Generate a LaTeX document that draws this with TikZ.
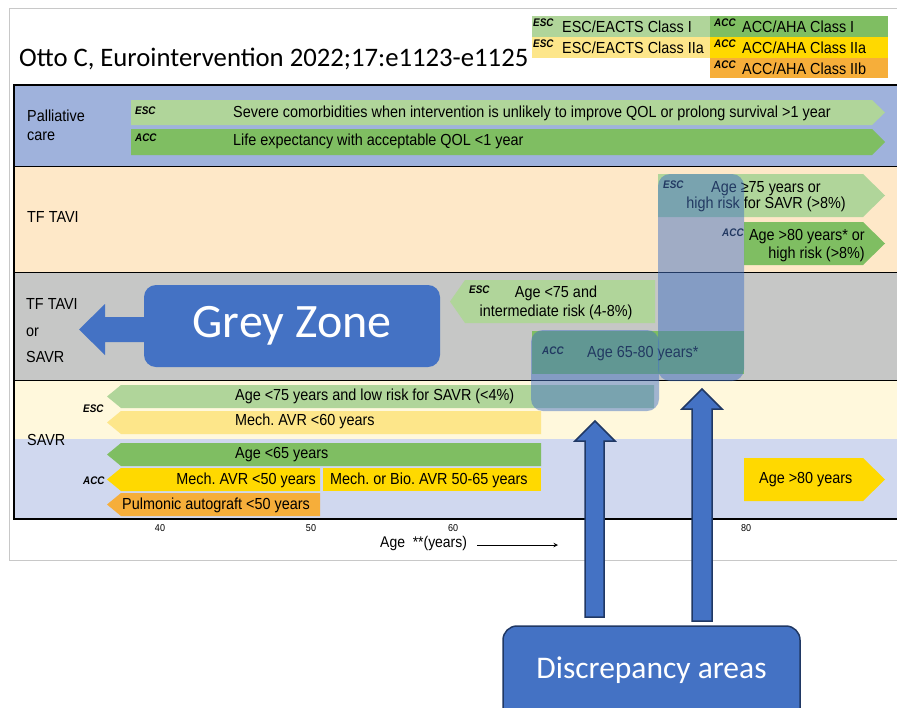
\documentclass[tikz,border=0pt]{standalone}
\usepackage{fontspec}
\usepackage{tikz}
\setmainfont{Liberation Sans}
\newfontfamily\narrowfont[FakeStretch=0.9]{Liberation Sans}
\newfontfamily\calfont{Carlito}
\frenchspacing

\definecolor{palband}{RGB}{159,178,220}
\definecolor{tavband}{RGB}{254,232,200}
\definecolor{greyband}{RGB}{198,199,198}
\definecolor{savrband}{RGB}{255,248,220}
\definecolor{accband}{RGB}{208,216,239}
\definecolor{escone}{RGB}{176,213,154}
\definecolor{accone}{RGB}{127,190,98}
\definecolor{esctwo}{RGB}{253,230,138}
\definecolor{acctwo}{RGB}{255,217,0}
\definecolor{accthree}{RGB}{246,174,58}
\definecolor{zoneblue}{RGB}{68,114,196}
\definecolor{zoneedge}{RGB}{32,56,100}
\definecolor{framegrey}{RGB}{200,200,200}

\tikzset{
  bandlbl/.style={font=\narrowfont\fontsize{16}{19}\selectfont, anchor=west, align=left, inner sep=0pt},
  bartxt/.style={font=\narrowfont\fontsize{16}{17}\selectfont, inner sep=0pt},
  tag/.style={font=\narrowfont\fontsize{11}{12}\selectfont\bfseries\itshape, inner sep=0pt, anchor=west},
  ticklbl/.style={font=\narrowfont\fontsize{10}{11}\selectfont, inner sep=0pt},
  shade box/.style={fill=zoneblue, fill opacity=0.5, rounded corners=12pt},
  blockarr/.style={fill=zoneblue, draw=zoneedge, line width=1.5pt, line join=miter},
}

\begin{document}
\begin{tikzpicture}[x=1pt,y=-1pt]
\useasboundingbox (0,0) rectangle (897,707);
\clip (0,0) rectangle (897,707);
% frame and title
\draw[framegrey, line width=1pt] (9,8) rectangle (910,560);
\node[anchor=base west, inner sep=0pt, font=\calfont\fontsize{26.7}{30}\selectfont] (title) at (19,66) {Otto C, Eurointervention 2022;17:e1123-e1125};
% legend
\fill[escone] (532,16) rectangle (710,37);
\fill[esctwo] (532,37) rectangle (710,58);
\fill[accone] (710,16) rectangle (888,37);
\fill[acctwo] (710,37) rectangle (888,58);
\fill[accthree] (710,58) rectangle (888,78);
\node[tag] (lgesca) at (533,23) {ESC};
\node[tag] (lgescb) at (533,44) {ESC};
\node[tag] (lgacca) at (714,23) {ACC};
\node[tag] (lgaccb) at (714,44) {ACC};
\node[tag] (lgaccc) at (714,65) {ACC};
\node[bartxt, anchor=west] (lgescone) at (562,27) {ESC/EACTS Class I};
\node[bartxt, anchor=west] (lgesctwo) at (562,48) {ESC/EACTS Class IIa};
\node[bartxt, anchor=west] (lgaccone) at (742,27) {ACC/AHA Class I};
\node[bartxt, anchor=west] (lgacctwo) at (742,48) {ACC/AHA Class IIa};
\node[bartxt, anchor=west] (lgaccthree) at (742,69) {ACC/AHA Class IIb};
% bands
\fill[palband] (14,85) rectangle (905,166);
\fill[tavband] (14,166) rectangle (905,272);
\fill[greyband] (14,272) rectangle (905,380);
\fill[savrband] (14,380) rectangle (905,439);
\fill[accband] (14,439) rectangle (905,519);
\draw[line width=0.8pt] (14,166) -- (905,166);
\draw[line width=0.8pt] (14,272) -- (905,272);
\draw[line width=0.8pt] (14,380) -- (905,380);
\draw[line width=1.2pt] (14,85) rectangle (905,519);
\node[bandlbl] (pallbl) at (27,125.5) {Palliative\\care};
\node[bandlbl] (tavlbl) at (27,217) {TF TAVI};
\node[bandlbl, font=\narrowfont\fontsize{16}{26.5}\selectfont] (greylbl) at (26,331) {TF TAVI\\or\\SAVR};
\node[bandlbl] (savrlbl) at (27,440) {SAVR};
% palliative care
\fill[escone] (131,100) -- (872,100) -- (885,112.5) -- (872,125) -- (131,125) -- cycle;
\fill[accone] (131,129) -- (872,129) -- (885,142) -- (872,155) -- (131,155) -- cycle;
\node[tag] (palesc) at (135,111) {ESC};
\node[tag] (palacc) at (135,138) {ACC};
\node[bartxt, anchor=west] (palesctxt) at (233,113) {Severe comorbidities when intervention is unlikely to improve QOL or prolong survival >1 year};
\node[bartxt, anchor=west] (palacctxt) at (233,141) {Life expectancy with acceptable QOL <1 year};
% TF TAVI
\fill[escone] (658,174) -- (863,174) -- (885,195.5) -- (863,217) -- (658,217) -- cycle;
\fill[accone] (744,222) -- (863,222) -- (885,243.5) -- (863,265) -- (744,265) -- cycle;
\node[tag] (tavesc) at (663,185) {ESC};
\node[tag] (tavacc) at (722,233) {ACC};
\node[bartxt, align=center, font=\narrowfont\fontsize{16}{15.5}\selectfont] (tavesctxt) at (766,196.5) {Age ≥75 years or\\high risk for SAVR (>8\%)};
\node[bartxt, align=right, anchor=east, font=\narrowfont\fontsize{16}{17.5}\selectfont] (tavacctxt) at (865,245.5) {Age >80 years* or\\high risk (>8\%)};
% grey zone band
\fill[escone] (450,301.5) -- (465,280) -- (655,280) -- (655,323) -- (465,323) -- cycle;
\fill[accone] (532,331) rectangle (744,374);
\node[tag] (greyesc) at (469,290) {ESC};
\node[tag] (greyacc) at (542,351) {ACC};
\node[bartxt, align=center, font=\narrowfont\fontsize{16}{19}\selectfont] (greyesctxt) at (556,302.5) {Age <75 and\\intermediate risk (4-8\%)};
\node[bartxt, anchor=west] (greyacctxt) at (587,354) {Age 65-80 years*};
% SAVR
\fill[escone] (107,396.5) -- (121,385) -- (654,385) -- (654,408) -- (121,408) -- cycle;
\fill[esctwo] (107,422.5) -- (121,411) -- (541,411) -- (541,434) -- (121,434) -- cycle;
\fill[accone] (107,454.5) -- (121,443) -- (541,443) -- (541,466) -- (121,466) -- cycle;
\fill[acctwo] (107,479.5) -- (121,468) -- (320,468) -- (320,491) -- (121,491) -- cycle;
\fill[acctwo] (323,468) rectangle (541,491);
\fill[accthree] (107,504.5) -- (121,493) -- (320,493) -- (320,516) -- (121,516) -- cycle;
\fill[acctwo] (744,458) -- (863,458) -- (885,479.5) -- (863,501) -- (744,501) -- cycle;
\node[tag] (savresc) at (83,409) {ESC};
\node[tag] (savracc) at (83,481) {ACC};
\node[bartxt, anchor=west] (savrlow) at (235,396) {Age <75 years and low risk for SAVR (<4\%)};
\node[bartxt, anchor=west] (savrmechsix) at (235,421) {Mech. AVR <60 years};
\node[bartxt, anchor=west] (savrage) at (235,455) {Age <65 years};
\node[bartxt, anchor=east] (savrmechfive) at (316,480) {Mech. AVR <50 years};
\node[bartxt, anchor=west] (savrbio) at (330,480) {Mech. or Bio. AVR 50-65 years};
\node[bartxt, anchor=west] (savrross) at (122,505) {Pulmonic autograft <50 years};
\node[bartxt, anchor=west] (savreighty) at (759,480) {Age >80 years};
% axis
\node[ticklbl] (tfour) at (160,528) {40};
\node[ticklbl] (tfive) at (311,528) {50};
\node[ticklbl] (tsix) at (453,528) {60};
\node[ticklbl] (teight) at (746,528) {80};
\node[bartxt, anchor=west, font=\narrowfont\fontsize{15.5}{17}\selectfont] (agelbl) at (380,543) {Age\ \ **(years)};
\coordinate (agetip) at (558,545);
\draw[-stealth, line width=1pt] (agelbl.east |- agetip) ++(10,0) -- (agetip);
% discrepancy areas
\fill[shade box] (658,174) rectangle (744,381);
\fill[shade box] (531,330) rectangle (659,411);
% grey zone
\node[fill=zoneblue, rounded corners=12pt, minimum width=296pt, minimum height=82pt, text=white, font=\calfont\fontsize{48}{52}\selectfont] (zone) at (292,326) {Grey Zone};
\fill[zoneblue] (zone.west |- 0,317) -- (105,317) -- (105,304) -- (79,329.5) -- (105,355) -- (105,342) -- (zone.west |- 0,342) -- cycle;
\node[fill=zoneblue, draw=zoneedge, line width=1.5pt, rounded corners=14pt, minimum width=297pt, minimum height=110pt] (disc) at (651.5,681) {};
\node[text=white, font=\calfont\fontsize{31.5}{34}\selectfont, inner sep=0pt] (disctxt) at (651.5,670) {Discrepancy areas};
\draw[blockarr] (585,617) -- (585,441) -- (575,441) -- (595,421) -- (615,441) -- (604,441) -- (604,617) -- cycle;
\draw[blockarr] (692,621) -- (692,409) -- (682,409) -- (702,389) -- (722,409) -- (712,409) -- (712,621) -- cycle;
\end{tikzpicture}
\end{document}
